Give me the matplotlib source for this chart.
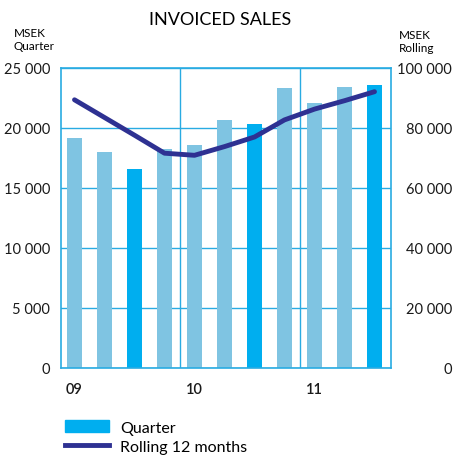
import numpy as np
import matplotlib.pyplot as plt
from matplotlib.patches import Patch
from matplotlib.lines import Line2D

plt.rcParams['font.family'] = ['Lato', 'DejaVu Sans']

# quarterly invoiced sales, Q1 2009 .. Q3 2011 (MSEK)
quarter = [19200, 18000, 16600, 18250, 18600, 20700, 20300, 23350, 22100, 23450, 23600]
rolling = [89400, 83500, 77600, 71600, 70900, 73800, 77000, 82700, 86300, 89100, 92100]
highlight = [False, False, True, False, False, False, True, False, False, False, True]
year_pos = [0, 4, 8]
year_labels = ['09', '10', '11']

light = '#7fc4e2'
bright = '#00aeef'
navy = '#2e3192'
gridc = '#29abe2'

x = np.arange(len(quarter))
colors = [bright if h else light for h in highlight]

fig = plt.figure(figsize=(4.53, 4.60), dpi=100)
ax = fig.add_axes([61/453, 1-369/460, 330/453, 300/460])
ax.set_axisbelow(True)
ax.bar(x, quarter, width=0.5, color=colors, zorder=2)
ax.set_xlim(-0.45, 10.55)
ax.set_ylim(0, 25000)
ax.set_yticks(range(0, 25001, 5000))
ax.set_yticklabels([f'{v:,}'.replace(',', ' ') for v in range(0, 25001, 5000)])
ax.set_xticks(year_pos)
ax.set_xticklabels(year_labels, fontweight='semibold')
ax.tick_params(length=0, labelsize=10.5, colors='#1a1a1a')
ax.tick_params(axis='x', pad=10)
ax.tick_params(axis='y', pad=8)
ax.grid(axis='y', color=gridc, lw=1)
for v in [3.5, 7.5]:
    ax.axvline(v, color=gridc, lw=1, zorder=1)
for s in ax.spines.values():
    s.set_color(gridc)
    s.set_linewidth(1.2)

ax2 = ax.twinx()
ax2.plot(x, rolling, color=navy, lw=3.5, solid_capstyle='round', zorder=3)
ax2.set_ylim(0, 100000)
ax2.set_yticks(range(0, 100001, 20000))
ax2.set_yticklabels([f'{v:,}'.replace(',', ' ') for v in range(0, 100001, 20000)])
ax2.tick_params(length=0, labelsize=10.5, colors='#1a1a1a', pad=44)
for lab in ax2.get_yticklabels():
    lab.set_horizontalalignment('right')
for s in ax2.spines.values():
    s.set_visible(False)

fig.text(220/453, 1-20/460, 'INVOICED SALES', ha='center', va='center', fontsize=13)
fig.text(14/453, 1-40/460, 'MSEK\nQuarter', ha='left', va='center', fontsize=8.5, linespacing=1.3)
fig.text(399/453, 1-42/460, 'MSEK\nRolling', ha='left', va='center', fontsize=8.5, linespacing=1.3)

handles = [Patch(color=bright), Line2D([], [], color=navy, lw=3.5)]
fig.legend(handles, ['Quarter', 'Rolling 12 months'], loc='upper left',
           bbox_to_anchor=(51/453, 1-407/460), frameon=False, fontsize=11.5,
           handlelength=2.7, handletextpad=0.75, labelspacing=0.3)

fig.savefig('out.png', dpi=100)
